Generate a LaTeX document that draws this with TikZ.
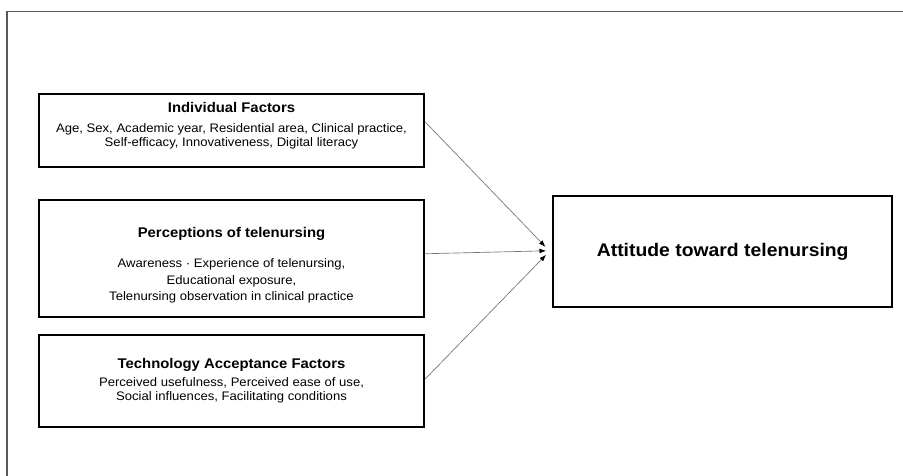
\documentclass[tikz,border=0pt]{standalone}
\usepackage{fontspec}
\setmainfont{Liberation Sans}[FakeStretch=1.06]
\usetikzlibrary{arrows.meta,positioning}

\newcommand\factorhead[1]{{\fontsize{10.55}{12}\selectfont\bfseries #1}}

\begin{document}
\begin{tikzpicture}[
    factor/.style={draw,line width=1.6pt,minimum width=10.19cm,align=center,
      inner sep=2pt,font=\fontsize{9.3}{10.5}\selectfont},
    outcome/.style={draw,line width=1.6pt,minimum width=8.97cm,minimum height=2.94cm,
      font=\fontsize{13.75}{15}\selectfont\bfseries},
    link/.style={-{Latex[length=5pt,width=3.6pt,color=black]},draw=black!55,line width=0.5pt}]
  \useasboundingbox (0,0) rectangle (23.89,12.59);
  % outer frame, runs off the page on the right and bottom
  \draw[black!65,line width=1pt] (0.185,-0.5) -- (0.185,12.28) -- (24.5,12.28);

  % three groups of predictors (struts nudge the text block up or down)
  \node[factor,minimum height=1.93cm] (indiv) at (6.125,9.14) {%
    \factorhead{Individual Factors}\\[4.5pt]
    Age, Sex, Academic year, Residential area, Clinical practice,\\
    Self-efficacy, Innovativeness, Digital literacy\rule[-9.5pt]{0pt}{0pt}};
  \node[factor,minimum height=3.10cm,font=\fontsize{9.3}{12.4}\selectfont] (percep) at (6.125,5.75) {%
    \factorhead{\rule{0pt}{17.5pt}Perceptions of telenursing}\\[10.6pt]
    Awareness · Experience of telenursing,\\
    Educational exposure,\\
    Telenursing observation in clinical practice};
  \node[factor,minimum height=2.43cm] (tech) at (6.125,2.51) {%
    \factorhead{Technology Acceptance Factors}\\[3pt]
    Perceived usefulness, Perceived ease of use,\\
    Social influences, Facilitating conditions};

  % outcome
  \node[outcome] (attitude) at (19.12,5.94) {Attitude toward telenursing};

  \coordinate[left=5pt of attitude.west,yshift=3.4pt] (inA);
  \coordinate[left=4.5pt of attitude.west,yshift=0.4pt] (inB);
  \coordinate[left=4.5pt of attitude.west,yshift=-2.6pt] (inC);

  \draw[link] ([yshift=6.4pt]indiv.east) -- (inA);
  \draw[link] ([yshift=3.6pt]percep.east) -- (inB);
  \draw[link] ([yshift=1.5pt]tech.east) -- (inC);
\end{tikzpicture}
\end{document}
